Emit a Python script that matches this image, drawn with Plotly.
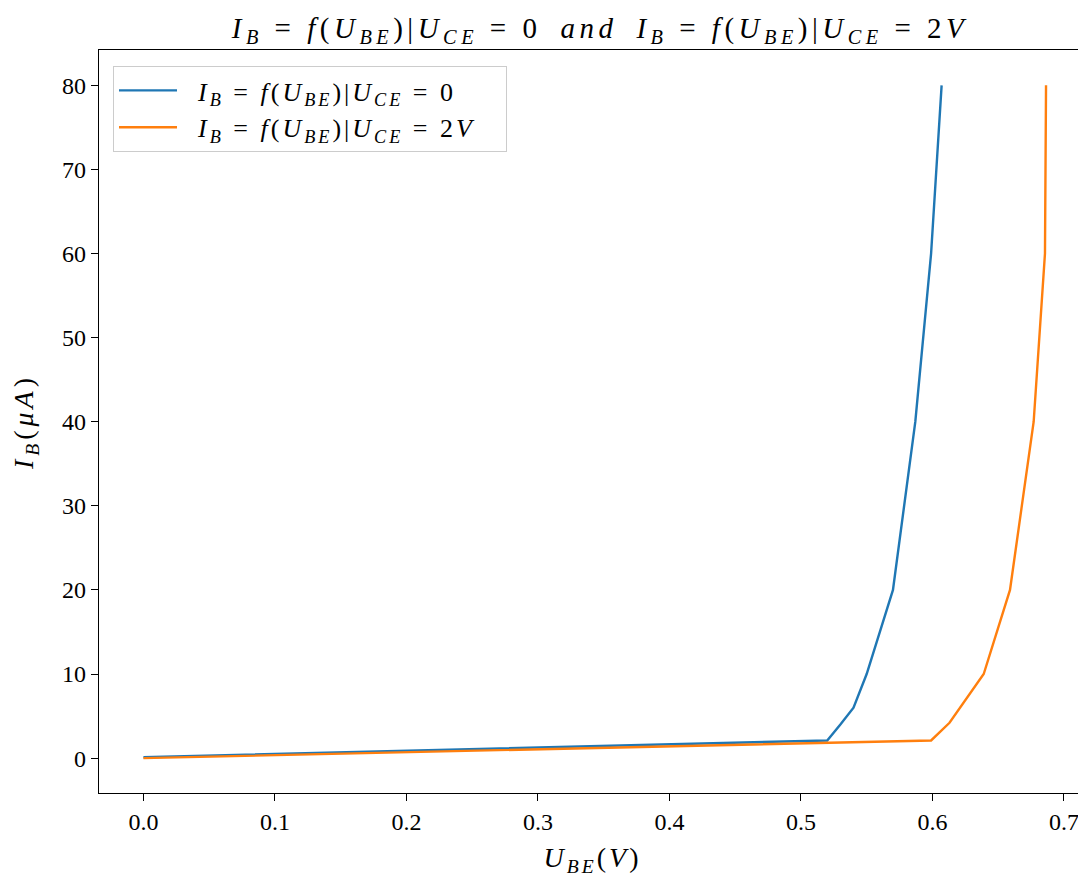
import plotly.graph_objects as go

# Data
ube_ce0 = [0.0, 0.52, 0.53, 0.54, 0.55, 0.57, 0.587, 0.599, 0.607]
ib_ce0 = [0.1, 2.1, 4.0, 6.0, 10.0, 20.0, 40.0, 60.0, 80.0]

ube_ce2 = [0.0, 0.599, 0.613, 0.639, 0.659, 0.677, 0.6856, 0.6864]
ib_ce2 = [0.0, 2.1, 4.2, 10.0, 20.0, 40.0, 60.0, 80.0]

x_ticks = [0.0, 0.1, 0.2, 0.3, 0.4, 0.5, 0.6, 0.7]
y_ticks = [0, 10, 20, 30, 40, 50, 60, 70, 80]

FONT = "Liberation Serif, DejaVu Serif, serif"
SP = "\u2005"   # math-like spacing around relations
EN = "\u2002"
EM = "\u2003"
EQ = SP + "=" + SP


def it(s):
    return "<i>" + s + "</i>"


def sub(s):
    return "<sub>" + it(s) + "</sub>"


def spaced(s, px):
    return '<span style="letter-spacing:%.1fpx">' % px + s + "</span>"


name0 = it("I") + sub("B") + EQ + it("f") + "(" + it("U") + sub("BE") + ")|" + it("U") + sub("CE") + EQ + "0"
name2 = it("I") + sub("B") + EQ + it("f") + "(" + it("U") + sub("BE") + ")|" + it("U") + sub("CE") + EQ + "2" + it("V")

fig = go.Figure()
fig.add_trace(go.Scatter(x=ube_ce0, y=ib_ce0, mode="lines", name=spaced(EN + name0, 3),
                         line=dict(color="#1f77b4", width=2.4)))
fig.add_trace(go.Scatter(x=ube_ce2, y=ib_ce2, mode="lines", name=spaced(EN + name2, 3) + EM,
                         line=dict(color="#ff7f0e", width=2.4)))

fig.update_layout(
    width=1078, height=869,
    margin=dict(l=91, r=0, t=42, b=84),
    paper_bgcolor="white", plot_bgcolor="white",
    font=dict(family=FONT, color="black", size=23),
    title=dict(text=spaced(name0 + EN + it("and") + EN + name2, 4.5),
               x=592 / 1078, xanchor="center", xref="container",
               y=1 - 20 / 869, yanchor="middle", yref="container",
               font=dict(size=29, family=FONT)),
    showlegend=True,
    legend=dict(x=(113 - 99) / 987, y=(793 - 66) / 743, xanchor="left", yanchor="top",
                bgcolor="rgba(255,255,255,0.8)", bordercolor="#cccccc", borderwidth=1,
                font=dict(size=26, family=FONT), itemwidth=58,
                tracegroupgap=0),
)

fig.update_xaxes(
    range=[-0.0338, 0.7168], tickvals=x_ticks, ticktext=[f"{v:.1f}" for v in x_ticks],
    showgrid=False, zeroline=False, showline=True, linecolor="black", linewidth=1.2,
    mirror=True, ticks="outside", ticklen=7, tickcolor="black", tickwidth=1,
    tickfont=dict(size=24),
    title=dict(text=spaced(it("U") + sub("BE") + "(" + it("V") + ")", 3), font=dict(size=28), standoff=16),
)
fig.update_yaxes(
    range=[-4.15, 84.2], tickvals=y_ticks, ticktext=[str(v) for v in y_ticks],
    showgrid=False, zeroline=False, showline=True, linecolor="black", linewidth=1.2,
    mirror=False, ticks="outside", ticklen=7, tickcolor="black", tickwidth=1,
    tickfont=dict(size=24),
    title=dict(text=spaced(it("I") + sub("B") + "(" + it("μA") + ")", 4), font=dict(size=28), standoff=22),
)

fig.write_html("out.html")
